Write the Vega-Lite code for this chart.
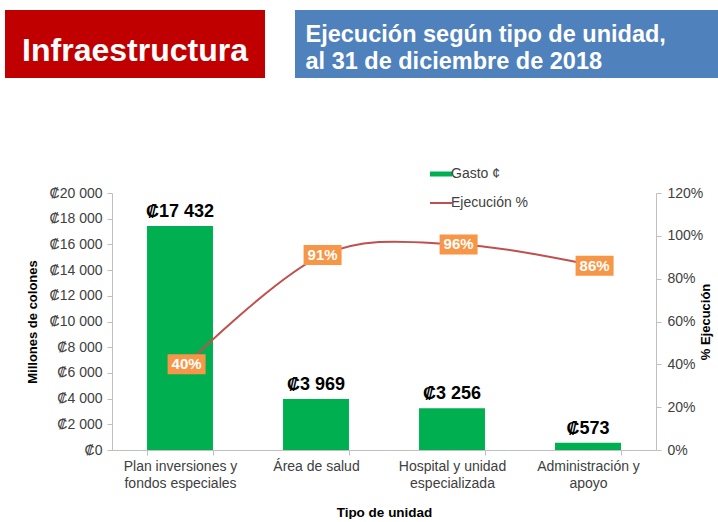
{
  "$schema": "https://vega.github.io/schema/vega-lite/v6.json",
  "padding": {"left": 5, "top": 10, "right": 0, "bottom": 0},
  "background": "white",
  "config": {
    "font": "Liberation Sans",
    "view": {"stroke": null},
    "locale": {"number": {"decimal": ",", "thousands": " ", "grouping": [3], "currency": ["₡", ""]}}
  },
  "spacing": 89,
  "resolve": {"scale": {"color": "independent"}, "legend": {"color": "independent"}},
  "vconcat": [
    {
      "spacing": 30,
      "hconcat": [
        {
          "width": 260,
          "height": 68,
          "view": {"fill": "#C00000", "stroke": null},
          "data": {"values": [{"t": "Infraestructura"}]},
          "mark": {"type": "text", "color": "white", "fontSize": 32, "fontWeight": "bold", "baseline": "middle", "align": "center", "dy": 7},
          "encoding": {"text": {"field": "t"}}
        },
        {
          "width": 423,
          "height": 68,
          "view": {"fill": "#4F81BD", "stroke": null},
          "data": {"values": [{"t": "Ejecución según tipo de unidad,\nal 31 de diciembre de 2018"}]},
          "mark": {"type": "text", "color": "white", "fontSize": 23.5, "fontWeight": "bold", "baseline": "middle", "align": "left", "dx": -201, "dy": -9, "lineBreak": "\n", "lineHeight": 27},
          "encoding": {"text": {"field": "t"}}
        }
      ]
    },
    {
      "spacing": 20,
      "resolve": {"scale": {"color": "independent"}, "legend": {"color": "independent"}},
      "hconcat": [
        {
          "width": 1,
          "height": 1,
          "data": {"values": [{}]},
          "mark": {"type": "text"},
          "encoding": {"text": {"value": ""}}
        },
        {
          "width": 544,
          "height": 257,
          "data": {"values": [
            {"tipo": "Plan inversiones y\nfondos especiales", "gasto": 17432, "ejecucion": 0.40},
            {"tipo": "Área de salud", "gasto": 3969, "ejecucion": 0.91},
            {"tipo": "Hospital y unidad\nespecializada", "gasto": 3256, "ejecucion": 0.96},
            {"tipo": "Administración y\napoyo", "gasto": 573, "ejecucion": 0.86}
          ]},
          "encoding": {
            "x": {
              "field": "tipo", "type": "nominal", "sort": null,
              "scale": {"paddingInner": 0.515, "paddingOuter": 0.2575},
              "axis": {
                "title": "Tipo de unidad", "titleFontSize": 13.5, "titleFontWeight": "bold", "titleColor": "black", "titlePadding": 15,
                "labelAngle": 0, "labelFontSize": 14, "labelColor": "#404040", "labelExpr": "split(datum.label, '\\n')",
                "labelLineHeight": 17, "labelPadding": 4, "labelBaseline": "top",
                "tickBand": "extent", "tickSize": 5, "tickColor": "#BFBFBF", "domainColor": "#BFBFBF"
              }
            }
          },
          "layer": [
            {
              "encoding": {
                "y": {
                  "field": "gasto", "type": "quantitative",
                  "scale": {"domain": [0, 20000]},
                  "axis": {
                    "title": "Millones de colones", "titleFontSize": 13, "titleFontWeight": "bold", "titleColor": "black",
                    "titleAngle": 270, "titleBaseline": "middle", "titleX": -80,
                    "format": "$,.0f", "values": [0, 2000, 4000, 6000, 8000, 10000, 12000, 14000, 16000, 18000, 20000],
                    "labelFontSize": 14, "labelColor": "#404040", "labelPadding": 5,
                    "tickSize": 5, "tickColor": "#BFBFBF", "domainColor": "#BFBFBF", "grid": false
                  }
                }
              },
              "layer": [
                {
                  "mark": {"type": "bar"},
                  "encoding": {
                    "color": {
                      "datum": "Gasto ¢", "type": "nominal",
                      "scale": {"domain": ["Gasto ¢", "Ejecución %"], "range": ["#00B050", "#C0504D"]},
                      "legend": {
                        "title": null, "orient": "none", "legendX": 322, "legendY": -26, "padding": 0,
                        "symbolType": "stroke", "symbolSize": 484, "symbolStrokeWidth": 3,
                        "labelFontSize": 14, "labelColor": "#404040", "labelOffset": 3, "rowPadding": 12,
                        "encode": {"symbols": {"update": {
                          "stroke": {"signal": "datum.index === 0 ? '#00B050' : '#C0504D'"},
                          "strokeWidth": {"signal": "datum.index === 0 ? 5 : 2"}
                        }}}
                      }
                    }
                  }
                },
                {
                  "mark": {"type": "text", "fontWeight": "bold", "fontSize": 18, "baseline": "bottom", "dy": -5, "color": "black"},
                  "encoding": {"text": {"field": "gasto", "type": "quantitative", "format": "$,.0f"}}
                }
              ]
            },
            {
              "encoding": {
                "x": {"field": "tipo", "type": "nominal", "sort": null, "bandPosition": 0.6,
                      "scale": {"paddingInner": 0.515, "paddingOuter": 0.2575}},
                "y": {
                  "field": "ejecucion", "type": "quantitative",
                  "scale": {"domain": [0, 1.2]},
                  "axis": {
                    "orient": "right", "title": "% Ejecución", "titleFontSize": 13, "titleFontWeight": "bold", "titleColor": "black",
                    "titleAngle": 270, "titleBaseline": "middle", "titleX": 49,
                    "format": ".0%", "values": [0, 0.2, 0.4, 0.6, 0.8, 1.0, 1.2],
                    "labelFontSize": 14, "labelColor": "#404040", "labelPadding": 6,
                    "tickSize": 5, "tickColor": "#BFBFBF", "domainColor": "#BFBFBF", "grid": false
                  }
                }
              },
              "layer": [
                {
                  "mark": {"type": "line", "interpolate": "cardinal", "strokeWidth": 2},
                  "encoding": {"color": {"datum": "Ejecución %", "type": "nominal"}}
                },
                {
                  "mark": {"type": "point", "shape": "M-1,-0.526L1,-0.526L1,0.526L-1,0.526Z", "size": 1444, "filled": true, "color": "#F79646", "opacity": 1, "strokeWidth": 0},
                  "encoding": {}
                },
                {
                  "mark": {"type": "text", "color": "white", "fontWeight": "bold", "fontSize": 15, "baseline": "middle"},
                  "encoding": {"text": {"field": "ejecucion", "type": "quantitative", "format": ".0%"}}
                }
              ]
            }
          ],
          "resolve": {"scale": {"y": "independent"}}
        }
      ]
    }
  ]
}
